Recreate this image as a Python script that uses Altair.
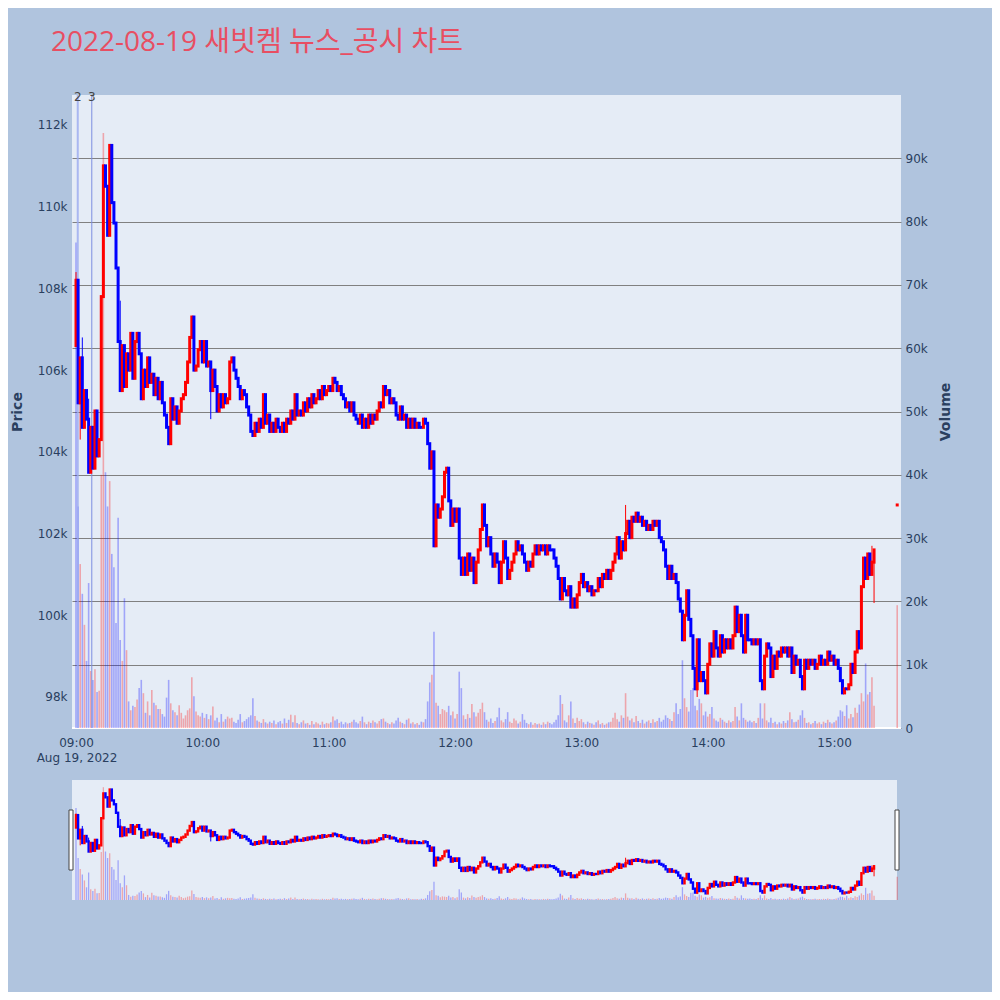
import altair as alt
import pandas as pd

TITLE = "2022-08-19 새빗켐 뉴스_공시 차트"
DAY = "2022-08-19"

# ---- data (prices in thousand won, volume in thousand shares) ----
first_open = 106.6
closes = [
    108.2, 105.2, 106.3, 104.6, 105.5, 104.8, 103.5, 104.6, 103.6, 105.0,
    103.9, 104.3, 107.8, 111.0, 110.5, 109.3, 111.5, 110.1, 109.6, 108.5,
    106.7, 105.5, 106.6, 105.6, 106.4, 106.0, 106.9, 105.8, 106.7, 106.9,
    106.4, 105.3, 106.0, 105.6, 106.3, 105.7, 105.9, 105.4, 105.8, 105.3,
    105.7, 105.2, 104.9, 104.6, 104.2, 105.3, 104.8, 105.1, 104.7, 105.0,
    105.3, 105.4, 105.7, 106.2, 106.8, 107.3, 106.0, 106.1, 106.5, 106.7,
    106.2, 106.7, 106.1, 106.2, 105.5, 106.0, 105.6, 105.0, 105.4, 105.1,
    105.4, 105.2, 105.3, 106.2, 106.3, 106.0, 105.8, 105.6, 105.3, 105.5,
    105.4, 105.1, 104.9, 104.5, 104.4, 104.7, 104.5, 104.8, 104.6, 105.4,
    104.7, 104.9, 104.5, 104.7, 104.5, 104.8, 104.6, 104.5, 104.7, 104.5,
    104.8, 104.7, 105.0, 104.8, 105.4, 104.9, 105.0, 104.9, 105.2, 105.0,
    105.3, 105.1, 105.4, 105.2, 105.3, 105.5, 105.3, 105.6, 105.4, 105.5,
    105.6, 105.5, 105.8, 105.7, 105.5, 105.6, 105.4, 105.3, 105.1, 105.2,
    105.0, 105.2, 104.9, 104.8, 104.7, 104.9, 104.6, 104.8, 104.6, 104.9,
    104.7, 104.9, 104.8, 105.0, 105.2, 105.1, 105.6, 105.4, 105.5, 105.2,
    105.3, 105.2, 104.9, 104.8, 105.1, 104.8, 104.9, 104.6, 104.8, 104.6,
    104.8, 104.6, 104.7, 104.6, 104.6, 104.8, 104.7, 104.2, 103.6, 104.0,
    101.7, 102.7, 102.4, 102.6, 102.9, 103.5, 103.6, 102.8, 102.2, 102.6,
    102.3, 102.6, 101.4, 101.0, 101.4, 101.0, 101.5, 101.1, 101.4, 100.8,
    101.3, 101.6, 102.1, 102.7, 102.2, 101.7, 101.9, 101.5, 101.2, 101.5,
    101.3, 100.8, 101.3, 101.8, 101.4, 100.9, 101.1, 101.3, 101.5, 101.8,
    101.6, 101.7, 101.5, 101.3, 101.1, 101.3, 101.2, 101.5, 101.7, 101.5,
    101.7, 101.6, 101.7, 101.5, 101.7, 101.6, 101.6, 101.4, 101.2, 100.9,
    100.4, 100.9, 100.6, 100.5, 100.7, 100.2, 100.4, 100.2, 100.5, 100.8,
    101.0, 100.7, 100.8, 100.6, 100.7, 100.5, 100.6, 100.6, 100.9, 100.7,
    101.0, 100.9, 101.1, 100.9, 101.1, 101.3, 101.5, 101.9, 101.4, 101.8,
    101.6, 102.0, 102.3, 101.9, 102.4, 102.3, 102.5, 102.3, 102.4, 102.2,
    102.3, 102.1, 102.2, 102.1, 102.3, 102.2, 102.3, 101.9, 101.8, 101.6,
    101.2, 100.9, 101.2, 100.9, 101.0, 100.8, 100.4, 100.1, 99.4, 100.0,
    100.6, 99.9, 99.5, 98.7, 98.2, 99.4, 98.4, 98.6, 98.4, 98.1,
    98.8, 99.3, 99.0, 99.6, 99.2, 99.0, 99.5, 99.1, 99.4, 99.2,
    99.4, 99.2, 99.5, 100.2, 99.6, 100.0, 99.5, 99.1, 100.0, 99.4,
    99.4, 99.3, 99.4, 99.3, 99.4, 98.4, 98.2, 99.0, 99.3, 99.2,
    98.5, 99.0, 98.7, 99.1, 99.0, 99.2, 99.1, 99.2, 99.0, 99.2,
    98.6, 99.0, 98.8, 98.9, 98.5, 98.2, 98.9, 98.7, 98.9, 98.8,
    98.9, 98.7, 98.8, 99.0, 98.8, 98.9, 98.8, 99.1, 98.9, 99.0,
    98.8, 98.9, 98.7, 98.4, 98.1, 98.2, 98.2, 98.3, 98.8, 98.6,
    99.1, 99.6, 99.2, 100.7, 101.4, 100.9, 101.5, 101.0, 101.3, 101.6,
]
volumes = [
    76.7, 35.0, 25.9, 21.2, 16.3, 10.6, 22.9, 9.0, 7.6, 9.3,
    5.7, 5.9, 40.0, 94.0, 40.4, 35.0, 39.0, 27.5, 25.4, 16.6,
    33.2, 13.9, 10.6, 20.5, 12.3, 4.2, 2.8, 3.5, 3.3, 4.5,
    6.3, 7.6, 5.5, 2.4, 4.2, 2.0, 6.0, 4.0, 3.6, 3.0,
    3.0, 2.2, 1.8, 4.8, 7.6, 3.9, 2.8, 2.5, 2.0, 3.6,
    2.4, 1.5, 2.0, 2.8, 3.1, 8.0, 5.0, 2.6, 2.0, 1.8,
    2.4, 1.6, 2.2, 1.4, 2.0, 3.4, 1.2, 1.6, 0.9, 2.2,
    1.0, 1.4, 1.8, 1.5, 1.6, 1.0, 0.8, 1.3, 2.2, 0.9,
    1.1, 1.4, 1.7, 2.0, 4.7, 1.9, 1.2, 1.0, 0.8, 1.4,
    0.9, 0.7, 1.0, 0.8, 1.2, 0.6, 0.9, 1.1, 0.7, 1.5,
    0.8, 1.3, 2.1, 0.9, 2.0, 0.8, 0.6, 0.9, 1.2, 0.7,
    0.8, 0.5, 1.1, 0.6, 0.9, 0.7, 0.5, 1.0, 0.6, 0.8,
    0.7, 0.9, 1.8, 1.2, 1.4, 0.8, 1.0, 0.6, 0.9, 0.7,
    0.8, 1.0, 1.3, 0.9, 0.7, 1.1, 1.8, 0.9, 0.6, 1.0,
    0.8, 1.2, 0.9, 0.7, 1.1, 1.4, 1.5, 1.0, 0.8, 0.6,
    0.9, 0.7, 1.2, 1.6, 1.0, 0.8, 0.6, 1.3, 1.5, 0.7,
    0.9, 0.6, 0.8, 0.5, 1.0, 0.9, 1.4, 4.2, 7.2, 8.4,
    15.2, 4.0, 3.5, 2.2, 3.0, 2.8, 2.5, 3.5, 2.0, 2.6,
    1.5, 2.2, 8.9, 6.3, 2.0, 1.4, 2.2, 1.6, 3.8, 2.5,
    1.8, 2.4, 3.0, 4.0, 2.5, 1.3, 1.0, 1.5, 0.8, 1.1,
    1.7, 3.2, 1.2, 0.9, 1.4, 2.5, 1.0, 0.8, 1.5, 1.2,
    0.7, 1.0, 2.2, 1.3, 0.8, 0.6, 0.9, 0.5, 0.8, 0.6,
    0.7, 0.5, 0.9, 0.6, 1.0, 0.8, 0.6, 0.9, 1.3, 2.0,
    5.2, 3.8, 1.2, 0.9, 2.0, 4.2, 1.5, 0.8, 1.6, 1.1,
    1.4, 0.9, 0.6, 1.0, 0.8, 0.7, 0.5, 0.9, 1.2, 0.6,
    0.8, 0.5, 0.7, 0.9, 1.0, 1.6, 2.4, 1.4, 1.0, 2.0,
    1.6, 5.5, 1.8, 1.2, 1.5, 0.9, 1.9, 1.1, 0.8, 1.3,
    0.7, 1.0, 1.2, 0.8, 1.4, 0.9, 1.1, 1.6, 1.0, 1.3,
    2.0, 1.6, 1.4, 1.1, 2.5, 3.9, 2.2, 3.0, 10.7, 4.7,
    3.3, 2.6, 6.0, 6.3, 3.5, 2.8, 4.6, 3.9, 2.0, 2.6,
    1.8, 2.2, 3.3, 1.5, 1.2, 1.0, 1.6, 1.3, 1.0, 0.8,
    1.2, 0.9, 1.1, 3.3, 1.8, 1.2, 3.9, 1.6, 1.3, 1.0,
    1.2, 0.9, 1.1, 0.8, 1.6, 3.9, 1.5, 3.9, 1.2, 0.9,
    1.6, 0.8, 1.0, 0.6, 0.9, 0.7, 1.1, 0.8, 1.2, 2.5,
    1.4, 0.9, 1.0, 1.3, 2.0, 2.8, 1.6, 0.8, 0.9, 0.6,
    0.8, 1.1, 0.7, 0.9, 0.6, 1.0, 0.8, 1.3, 0.9, 0.7,
    0.9, 1.2, 1.8, 2.8, 2.6, 1.9, 3.6, 1.5, 2.2, 1.7,
    3.2, 2.4, 3.7, 5.5, 4.2, 10.2, 5.3, 5.7, 8.0, 3.5,
]
wick_high = {0: 108.4, 3: 106.8, 6: 105.3, 21: 107.7, 261: 102.7, 378: 101.7}
wick_low = {2: 104.3, 64: 104.8, 295: 98.0, 379: 100.3}
auction_time = "15:30"
auction_price = 102.7
auction_volume = 19.4
news_labels = ["2", "3"]
news_times = ["09:00:50", "09:07:30"]
price_ticks = [98, 100, 102, 104, 106, 108, 110, 112]
volume_ticks = [0, 10, 20, 30, 40, 50, 60, 70, 80, 90]
hour_ticks = [9, 10, 11, 12, 13, 14, 15]

assert len(closes) == 380 and len(volumes) == 380

# ---- build table ----
rows = []
t0 = pd.Timestamp(f"{DAY} 09:00")
prev_close = None
for i, c in enumerate(closes):
    o = first_open if i == 0 else closes[i - 1]
    h = max(o, c, wick_high.get(i, c))
    l = min(o, c, wick_low.get(i, c))
    if c > o:
        cdir = "up"
    elif c < o:
        cdir = "down"
    else:
        cdir = "up" if (prev_close is not None and c > prev_close) else "down"
    vdir = "up" if (prev_close is not None and c > prev_close) else "down"
    rows.append(dict(t=(t0 + pd.Timedelta(minutes=i)).strftime("%Y-%m-%dT%H:%M:%S"),
                     open=o * 1000, high=h * 1000, low=l * 1000, close=c * 1000,
                     volume=volumes[i] * 1000, cdir=cdir, vdir=vdir))
    prev_close = c
ap = auction_price
rows.append(dict(t=f"{DAY}T{auction_time}:00", open=ap * 1000, high=ap * 1000, low=ap * 1000,
                 close=ap * 1000, volume=auction_volume * 1000,
                 cdir="up" if ap > prev_close else "down", vdir="up" if ap > prev_close else "down"))
df = pd.DataFrame(rows)
news_df = pd.DataFrame({"label": news_labels, "t": [f"{DAY}T{s}" for s in news_times]})
one = pd.DataFrame({"a": [0]})

# ---- layout constants (pixels) ----
W, H = 829, 805
MAIN_H = 633
SL_TOP = 685
BG = "#B0C4DE"
PLOT_BG = "#E5ECF6"
TXT = "#2a3f5f"
FONT = "DejaVu Sans"

def dt(h, m=0, s=0):
    return alt.DateTime(year=2022, month=8, date=19, hours=h, minutes=m, seconds=s)

x_scale = alt.Scale(domain=[dt(8, 58, 6), dt(15, 31, 48)], padding=0)
x_axis = alt.Axis(values=[dt(h) for h in hour_ticks], format="%H:%M", labelFont=FONT,
                  labelFontSize=12, labelColor=TXT, ticks=False, domain=False, grid=False,
                  labelPadding=9, offset=-(H - MAIN_H), zindex=1, title=None,
                  labelFlush=False, labelOverlap=False)
X = alt.X("t:T", scale=x_scale, axis=x_axis)

price_dom = [97241, 112734]
vol_dom = [0, 100000]
price_main = alt.Scale(domain=price_dom, range=[MAIN_H, 0], nice=False, zero=False, padding=0)
vol_main = alt.Scale(domain=vol_dom, range=[MAIN_H, 0], nice=False, padding=0)
price_sl = alt.Scale(domain=price_dom, range=[H, SL_TOP], nice=False, zero=False, padding=0)
vol_sl = alt.Scale(domain=vol_dom, range=[H, SL_TOP], nice=False, padding=0)

price_axis = alt.Axis(orient="left", values=[v * 1000 for v in price_ticks],
                      labelExpr="(datum.value / 1000) + 'k'", gridColor="white", gridWidth=1,
                      ticks=False, domain=False, labelPadding=5, labelFont=FONT, labelFontSize=12,
                      labelColor=TXT, title="Price", titleFont=FONT, titleFontSize=14,
                      titleFontWeight="bold", titleColor=TXT, titleAngle=270, titleX=-55,
                      titleY=MAIN_H / 2, titleAlign="center", titleBaseline="middle")
vol_axis = alt.Axis(orient="right", values=[v * 1000 for v in volume_ticks],
                    labelExpr="datum.value == 0 ? '0' : (datum.value / 1000) + 'k'",
                    gridColor="#808080", gridWidth=1, ticks=False, domain=False, labelPadding=4,
                    labelFont=FONT, labelFontSize=12, labelColor=TXT, title="Volume",
                    titleFont=FONT, titleFontSize=14, titleFontWeight="bold", titleColor=TXT,
                    titleAngle=270, titleX=44, titleY=MAIN_H / 2, titleAlign="center",
                    titleBaseline="middle")

cscale = alt.Scale(domain=["up", "down"], range=["#FF0000", "#0000FF"])
ccol = alt.Color("cdir:N", scale=cscale, legend=None)
vcol = alt.Color("vdir:N", scale=cscale, legend=None)

base = alt.Chart(df)

gap = alt.Chart(one).mark_rect(color=BG).encode(
    x=alt.value(0), x2=alt.value(W), y=alt.value(MAIN_H), y2=alt.value(SL_TOP))
strip = alt.Chart(one).mark_rect(color=BG).encode(
    x=alt.value(825), x2=alt.value(W), y=alt.value(SL_TOP), y2=alt.value(H))
zero_line = alt.Chart(one).mark_rule(color="white", strokeWidth=2).encode(
    x=alt.value(0), x2=alt.value(W), y=alt.value(MAIN_H))

vol_bars = base.mark_bar(size=1.6, opacity=0.3).encode(
    x=X, y=alt.Y("volume:Q", scale=vol_main, axis=vol_axis), color=vcol)

news2 = alt.Chart(news_df).transform_filter(alt.datum.label == "2").mark_rule(
    color="#9aaaf0", strokeWidth=2, opacity=0.8).encode(
    x=X, y=alt.value(0), y2=alt.value(MAIN_H))
news3 = alt.Chart(news_df).transform_filter(alt.datum.label == "3").mark_rule(
    color="#7d8ee0", strokeWidth=1).encode(
    x=X, y=alt.value(0), y2=alt.value(MAIN_H))

wick = base.mark_rule(strokeWidth=1).encode(
    x=X, y=alt.Y("low:Q", scale=price_main, axis=price_axis), y2="high:Q", color=ccol)
body = base.mark_rule(strokeWidth=3, strokeCap="square").encode(
    x=X, y=alt.Y("open:Q", scale=price_main, axis=None), y2="close:Q", color=ccol)

news_text = alt.Chart(news_df).mark_text(font=FONT, fontSize=12, color="#444444",
                                         baseline="alphabetic", align="center").encode(
    x=X, y=alt.value(6), text="label:N")

sl_vol = base.mark_bar(size=1.3, opacity=0.3).encode(
    x=X, y=alt.Y("volume:Q", scale=vol_sl, axis=None), color=vcol)
sl_wick = base.mark_rule(strokeWidth=1).encode(
    x=X, y=alt.Y("low:Q", scale=price_sl, axis=None), y2="high:Q", color=ccol)
sl_body = base.mark_rule(strokeWidth=2.4, strokeCap="square").encode(
    x=X, y=alt.Y("open:Q", scale=price_sl, axis=None), y2="close:Q", color=ccol)

handle_l = alt.Chart(one).mark_rect(fill="white", stroke="#444444", strokeWidth=1).encode(
    x=alt.value(-3), x2=alt.value(1), y=alt.value(715), y2=alt.value(775))
handle_r = alt.Chart(one).mark_rect(fill="white", stroke="#444444", strokeWidth=1).encode(
    x=alt.value(823), x2=alt.value(827), y=alt.value(715), y2=alt.value(775))

title = alt.Chart(one).mark_text(align="left", baseline="alphabetic", fontSize=28,
                                 font="Open Sans, Noto Sans CJK KR", color="#E84E62").encode(
    x=alt.value(-21), y=alt.value(-44), text=alt.value(TITLE))
date_txt = alt.Chart(one).mark_text(align="center", baseline="alphabetic", fontSize=12,
                                    font=FONT, color=TXT).encode(
    x=alt.value(5), y=alt.value(MAIN_H + 34), text=alt.value("Aug 19, 2022"))

chart = alt.layer(
    gap, strip, zero_line, vol_bars, news2, news3, wick, body, news_text,
    sl_vol, sl_wick, sl_body, handle_l, handle_r, title, date_txt
).resolve_scale(y="independent").properties(
    width=W, height=H,
    autosize=alt.AutoSizeParams(type="none"),
    padding={"left": 64, "top": 87, "right": 91, "bottom": 92},
    background=BG,
).configure_view(fill=PLOT_BG, strokeWidth=0)

chart.save("out.html", embed_options={"renderer": "svg", "actions": False})
